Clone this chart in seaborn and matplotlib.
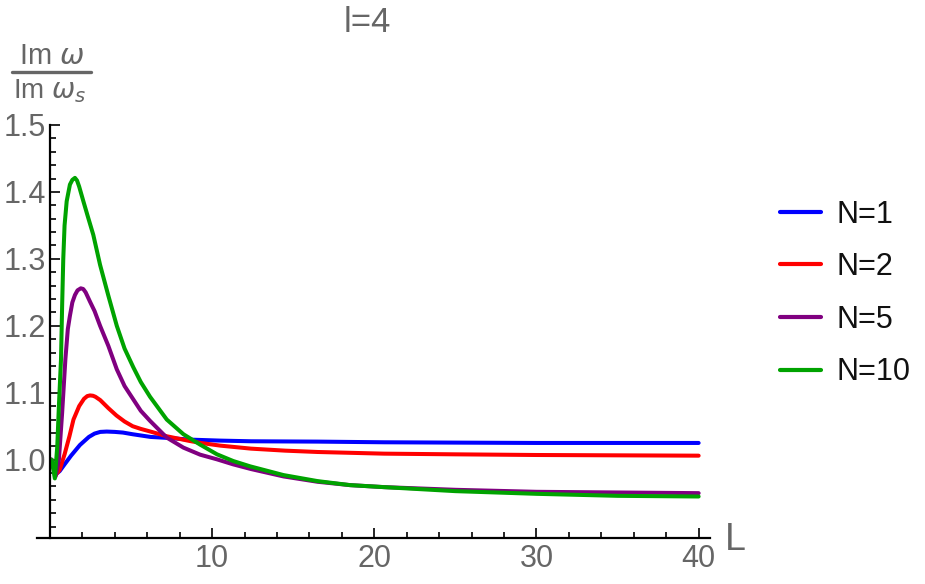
import numpy as np
import pandas as pd
import matplotlib
matplotlib.use("Agg")
import matplotlib.pyplot as plt
from matplotlib.ticker import MultipleLocator, FixedLocator
import seaborn as sns

# ---- data ----
labels = ["N=1", "N=2", "N=5", "N=10"]

x_n1 = [0.1, 0.35, 0.6, 0.9, 1.3, 1.85, 2.4, 2.75, 3.1, 3.5, 4.0, 4.5, 5.1, 6.2,
        7.2, 8.6, 10.5, 12.4, 16.5, 20.6, 25, 30, 35, 40]
y_n1 = [1.0, 0.978, 0.983, 0.993, 1.006, 1.022, 1.034, 1.039, 1.0415, 1.042, 1.0415,
        1.0405, 1.038, 1.034, 1.0326, 1.030, 1.0285, 1.0275, 1.027, 1.026, 1.0255,
        1.025, 1.025, 1.025]

x_n2 = [0.1, 0.35, 0.6, 0.9, 1.2, 1.45, 1.8, 2.1, 2.3, 2.47, 2.65, 2.8, 3.1, 3.6,
        4.1, 4.6, 5.1, 5.6, 6.2, 7.2, 8.6, 9.3, 10.5, 12.4, 14.5, 16.5, 20.6, 25,
        30, 35, 40]
y_n2 = [1.0, 0.977, 0.985, 1.008, 1.035, 1.06, 1.08, 1.091, 1.095, 1.096, 1.0955,
        1.094, 1.089, 1.077, 1.066, 1.057, 1.05, 1.046, 1.042, 1.035, 1.028, 1.025,
        1.021, 1.0165, 1.0135, 1.0115, 1.009, 1.008, 1.007, 1.0065, 1.006]

x_n5 = [0.1, 0.35, 0.55, 0.75, 0.95, 1.1, 1.23, 1.38, 1.54, 1.7, 1.9, 2.05, 2.2,
        2.47, 2.75, 3.09, 3.6, 4.12, 4.6, 5.14, 5.6, 6.17, 7.2, 8.23, 9.26, 10.3,
        11.3, 12.4, 14.4, 16.5, 18.5, 20.6, 25, 30, 35, 40]
y_n5 = [1.0, 0.975, 1.0, 1.07, 1.15, 1.195, 1.215, 1.235, 1.246, 1.253, 1.256,
        1.255, 1.25, 1.236, 1.222, 1.2, 1.17, 1.135, 1.11, 1.09, 1.073, 1.058,
        1.033, 1.018, 1.0075, 1.0005, 0.993, 0.986, 0.975, 0.967, 0.962, 0.959,
        0.955, 0.952, 0.951, 0.950]

x_n10 = [0.1, 0.3, 0.45, 0.55, 0.68, 0.75, 0.82, 0.9, 1.03, 1.23, 1.38, 1.54, 1.67,
         1.8, 2.06, 2.35, 2.67, 3.09, 3.6, 4.12, 4.6, 5.14, 5.6, 6.17, 7.2, 8.23,
         9.26, 10.3, 11.3, 12.35, 14.4, 16.5, 18.5, 20.6, 25, 30, 35, 40]
y_n10 = [1.0, 0.972, 1.02, 1.08, 1.15, 1.23, 1.30, 1.35, 1.386, 1.411, 1.418,
         1.421, 1.417, 1.408, 1.386, 1.362, 1.336, 1.291, 1.245, 1.20, 1.166,
         1.138, 1.116, 1.094, 1.06, 1.038, 1.0225, 1.008, 0.998, 0.99, 0.977,
         0.968, 0.962, 0.959, 0.953, 0.949, 0.946, 0.945]

x_ticks = [10, 20, 30, 40]
y_ticks = [1.0, 1.1, 1.2, 1.3, 1.4, 1.5]
colors = ["#0000ff", "#ff0000", "#800080", "#00a300"]

frames = []
for lab, xs, ys in zip(labels, [x_n1, x_n2, x_n5, x_n10], [y_n1, y_n2, y_n5, y_n10]):
    frames.append(pd.DataFrame({"L": xs, "ratio": ys, "series": lab}))
df = pd.concat(frames, ignore_index=True)

# ---- style ----
sns.set_style("white")
plt.rcParams["font.family"] = ["Liberation Sans", "DejaVu Sans"]
plt.rcParams["mathtext.fontset"] = "dejavusans"

fig = plt.figure(figsize=(9.25, 5.84), dpi=100)
ax = fig.add_axes([37 / 925, 1 - 538 / 584, (710 - 37) / 925, (538 - 125) / 584])

sns.lineplot(data=df, x="L", y="ratio", hue="series", hue_order=labels,
             palette=colors, estimator=None, sort=True, linewidth=2.9, ax=ax,
             legend=True)

ax.set_xlim(-0.8, 40.7)
ax.set_ylim(0.883, 1.5)

gray = "#666666"
for s in ["top", "right"]:
    ax.spines[s].set_visible(False)
ax.spines["left"].set_position(("data", 0))
ax.spines["left"].set_bounds(0.883, 1.5)
for s in ["left", "bottom"]:
    ax.spines[s].set_color("black")
    ax.spines[s].set_linewidth(1.6)

ax.xaxis.set_major_locator(FixedLocator(x_ticks))
ax.xaxis.set_minor_locator(MultipleLocator(2))
ax.yaxis.set_major_locator(FixedLocator(y_ticks))
ax.yaxis.set_minor_locator(MultipleLocator(0.02))
ax.set_xticklabels([str(t) for t in x_ticks])
ax.set_yticklabels([f"{t:.1f}" for t in y_ticks])
ax.tick_params(which="both", direction="in", color="black", width=1.2,
               bottom=True, left=True, top=False, right=False)
ax.tick_params(which="major", length=7, labelsize=22, labelcolor=gray, pad=4)
ax.tick_params(which="minor", length=4)
ax.tick_params(axis="y", which="major", pad=3)
ax.set_xlabel("")
ax.set_ylabel("")

# legend
leg = ax.legend(loc="upper left", bbox_to_anchor=(752 / 925, 1 - 172 / 584),
                bbox_transform=fig.transFigure, frameon=False, fontsize=22,
                handlelength=1.35, handletextpad=0.5, labelspacing=0.74)
for t in leg.get_texts():
    t.set_color("#111111")
for h in leg.get_lines():
    h.set_linewidth(3)

# axis labels & title
fig.text(735 / 925, 1 - 540 / 584, "L", fontsize=27, color=gray, ha="center", va="center")
fig.text(367 / 925, 1 - 22 / 584, "l=4", fontsize=25, color=gray, ha="center", va="center")
fig.text(52 / 925, 1 - 56 / 584, r"Im $\omega$", fontsize=21, color=gray, ha="center", va="center")
fig.add_artist(plt.Line2D([12 / 925, 91 / 925], [1 - 72 / 584, 1 - 72 / 584],
                          color=gray, linewidth=2.4, transform=fig.transFigure))
fig.text(50 / 925, 1 - 91 / 584, r"Im $\omega_s$", fontsize=20, color=gray, ha="center", va="center")

fig.savefig("out.png", dpi=100)
